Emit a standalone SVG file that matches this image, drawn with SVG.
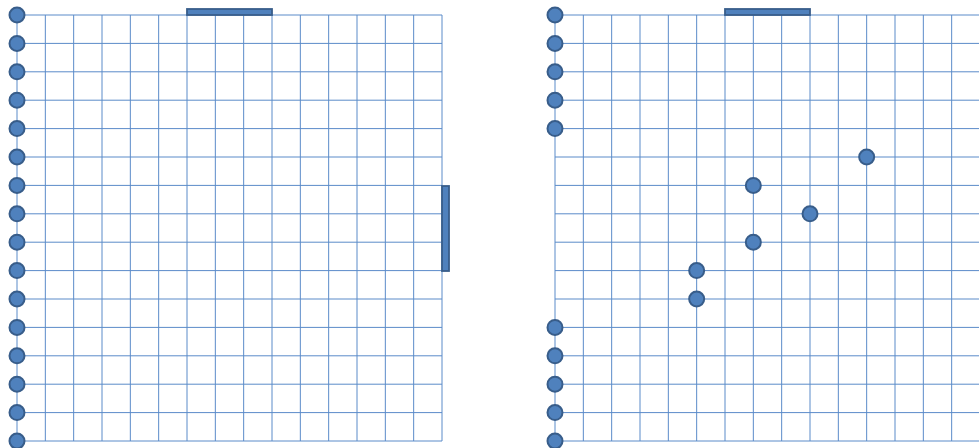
<svg xmlns="http://www.w3.org/2000/svg" width="979" height="448" viewBox="0 0 979 448">
<style>
.grid{fill:none;stroke:#5b8bc9;stroke-width:1}
.node{fill:#4f81bd;stroke:#385d8a;stroke-width:2}
.bar{fill:#4f81bd;stroke:#385d8a;stroke-width:1.8}
</style>
<rect width="979" height="448" fill="#ffffff"/>
<g id="connectors">
<path class="grid" d="M17,15V441M45.33,15V441M73.67,15V441M102,15V441M130.33,15V441M158.67,15V441M187,15V441M215.33,15V441M243.67,15V441M272,15V441M300.33,15V441M328.67,15V441M357,15V441M385.33,15V441M413.67,15V441M442,15V441
M17,15H442M17,43.4H442M17,71.8H442M17,100.2H442M17,128.6H442M17,157H442M17,185.4H442M17,213.8H442M17,242.2H442M17,270.6H442M17,299H442M17,327.4H442M17,355.8H442M17,384.2H442M17,412.6H442M17,441H442"/>
<path class="grid" d="M555,15V441M583.33,15V441M611.67,15V441M640,15V441M668.33,15V441M696.67,15V441M725,15V441M753.33,15V441M781.67,15V441M810,15V441M838.33,15V441M866.67,15V441M895,15V441M923.33,15V441M951.67,15V441M980,15V441
M555,15H980M555,43.4H980M555,71.8H980M555,100.2H980M555,128.6H980M555,157H980M555,185.4H980M555,213.8H980M555,242.2H980M555,270.6H980M555,299H980M555,327.4H980M555,355.8H980M555,384.2H980M555,412.6H980M555,441H980"/>
</g>
<g id="bar-left-top"><rect class="bar" x="187" y="9" width="85" height="6"/></g>
<g id="bar-left-right"><rect class="bar" x="442" y="186" width="7" height="85"/></g>
<g id="bar-right-top"><rect class="bar" x="725" y="9" width="85" height="6"/></g>
<g id="left-nodes">
<g id="L0"><circle class="node" cx="17" cy="15" r="7.5"/></g>
<g id="L1"><circle class="node" cx="17" cy="43.4" r="7.5"/></g>
<g id="L2"><circle class="node" cx="17" cy="71.8" r="7.5"/></g>
<g id="L3"><circle class="node" cx="17" cy="100.2" r="7.5"/></g>
<g id="L4"><circle class="node" cx="17" cy="128.6" r="7.5"/></g>
<g id="L5"><circle class="node" cx="17" cy="157" r="7.5"/></g>
<g id="L6"><circle class="node" cx="17" cy="185.4" r="7.5"/></g>
<g id="L7"><circle class="node" cx="17" cy="213.8" r="7.5"/></g>
<g id="L8"><circle class="node" cx="17" cy="242.2" r="7.5"/></g>
<g id="L9"><circle class="node" cx="17" cy="270.6" r="7.5"/></g>
<g id="L10"><circle class="node" cx="17" cy="299" r="7.5"/></g>
<g id="L11"><circle class="node" cx="17" cy="327.4" r="7.5"/></g>
<g id="L12"><circle class="node" cx="17" cy="355.8" r="7.5"/></g>
<g id="L13"><circle class="node" cx="17" cy="384.2" r="7.5"/></g>
<g id="L14"><circle class="node" cx="17" cy="412.6" r="7.5"/></g>
<g id="L15"><circle class="node" cx="17" cy="441" r="7.5"/></g>
</g>
<g id="right-nodes">
<g id="R0"><circle class="node" cx="555" cy="15" r="7.5"/></g>
<g id="R1"><circle class="node" cx="555" cy="43.4" r="7.5"/></g>
<g id="R2"><circle class="node" cx="555" cy="71.8" r="7.5"/></g>
<g id="R3"><circle class="node" cx="555" cy="100.2" r="7.5"/></g>
<g id="R4"><circle class="node" cx="555" cy="128.6" r="7.5"/></g>
<g id="R11"><circle class="node" cx="555" cy="327.4" r="7.5"/></g>
<g id="R12"><circle class="node" cx="555" cy="355.8" r="7.5"/></g>
<g id="R13"><circle class="node" cx="555" cy="384.2" r="7.5"/></g>
<g id="R14"><circle class="node" cx="555" cy="412.6" r="7.5"/></g>
<g id="R15"><circle class="node" cx="555" cy="441" r="7.5"/></g>
<g id="M1"><circle class="node" cx="866.67" cy="157" r="7.5"/></g>
<g id="M2"><circle class="node" cx="753.33" cy="185.4" r="7.5"/></g>
<g id="M3"><circle class="node" cx="810" cy="213.8" r="7.5"/></g>
<g id="M4"><circle class="node" cx="753.33" cy="242.2" r="7.5"/></g>
<g id="M5"><circle class="node" cx="696.67" cy="270.6" r="7.5"/></g>
<g id="M6"><circle class="node" cx="696.67" cy="299" r="7.5"/></g>
</g>
</svg>
